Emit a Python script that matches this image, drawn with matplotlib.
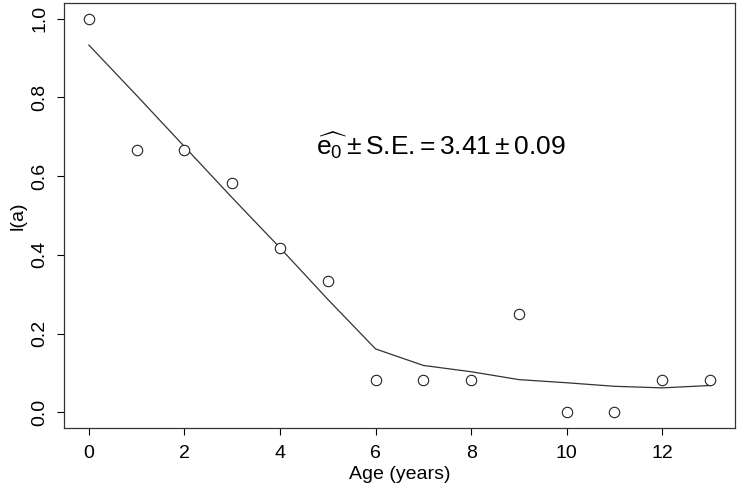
"""Survivorship l(a) by age with fitted curve, R-style base plot."""

import matplotlib as mpl
import matplotlib.pyplot as plt

mpl.rcParams.update({
    "font.family": "sans-serif",
    "font.sans-serif": ["Liberation Sans", "DejaVu Sans"],
    "mathtext.fontset": "custom",
    "mathtext.rm": "Liberation Sans",
    "mathtext.it": "Liberation Sans",
    "mathtext.bf": "Liberation Sans:bold",
})

# ── Data ─────────────────────────────────────────────────────────────

age = [0, 1, 2, 3, 4, 5, 6, 7, 8, 9, 10, 11, 12, 13]
la_obs = [1.0, 0.667, 0.667, 0.583, 0.417, 0.333, 0.083,
          0.083, 0.083, 0.25, 0.0, 0.0, 0.083, 0.083]
la_fit = [0.933, 0.805, 0.675, 0.545, 0.418, 0.287, 0.161,
          0.119, 0.103, 0.083, 0.075, 0.066, 0.062, 0.068]

fig = plt.figure(figsize=(7.4, 4.9), dpi=100)
ax = fig.add_axes([0.0865, 0.1265, 0.9065, 0.8675])

ax.plot(age, la_fit, color="#333333", linewidth=0.9)
ax.plot(age, la_obs, linestyle="none", marker="o", markersize=7.5,
        markerfacecolor="white", markeredgecolor="#222222", markeredgewidth=0.8)

ax.set_xlim(-0.52, 13.52)
ax.set_ylim(-0.04, 1.04)
ax.set_xticks([0, 2, 4, 6, 8, 10, 12])
ax.set_yticks([0.0, 0.2, 0.4, 0.6, 0.8, 1.0])
ax.set_yticklabels([f"{v:.1f}" for v in ax.get_yticks()], rotation=90, va="center")
ax.tick_params(direction="out", length=5, width=0.8, labelsize=14, pad=6)
ax.tick_params(axis="x", pad=7)
for s in ax.spines.values():
    s.set_linewidth(0.9)
    s.set_color("#333333")

ax.set_xlabel("Age (years)", fontsize=14, labelpad=3)
ax.set_ylabel("l(a)", fontsize=14, labelpad=4)

ax.text(7.36, 0.677,
        r"$\widehat{\mathrm{e}_0}\pm$S.E.$=3.41\pm0.09$",
        fontsize=19, ha="center", va="center")

fig.savefig("out.png", dpi=100)
